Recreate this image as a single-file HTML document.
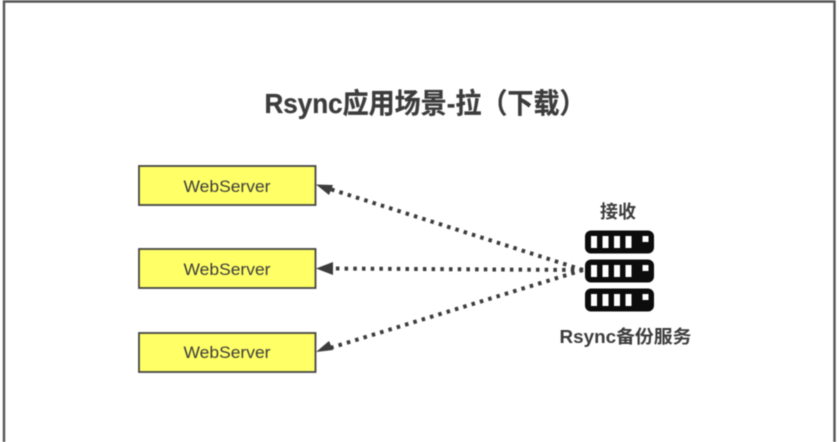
<!DOCTYPE html>
<html><head><meta charset="utf-8"><style>
html,body{margin:0;padding:0;background:#fff;width:839px;height:442px;overflow:hidden}
svg{display:block;filter:blur(.45px)}
text{font-family:"Liberation Sans","Noto Sans CJK SC",sans-serif;fill:#3c3c3c}
</style></head><body>
<svg width="839" height="442" viewBox="0 0 839 442" xmlns="http://www.w3.org/2000/svg">
<rect width="839" height="442" fill="#fff"/>
<path d="M4 442V1.500H834.500V442" fill="none" stroke="#555" stroke-width="2.400"/>
<text x="425" y="113" font-size="28" font-weight="700" text-anchor="middle" textLength="321" lengthAdjust="spacingAndGlyphs" stroke="#3c3c3c" stroke-width=".3">Rsync应用场景-拉（下载）</text>
<g fill="#ffff66" stroke="#444" stroke-width="1.800">
<rect x="139" y="166" width="176.500" height="39"/>
<rect x="139" y="249" width="176.500" height="39"/>
<rect x="139" y="333" width="176.500" height="39"/>
</g>
<g font-size="17" text-anchor="middle">
<text x="227" y="192" textLength="87" lengthAdjust="spacingAndGlyphs">WebServer</text>
<text x="227" y="275" textLength="87" lengthAdjust="spacingAndGlyphs">WebServer</text>
<text x="227" y="358" textLength="87" lengthAdjust="spacingAndGlyphs">WebServer</text>
</g>
<g stroke="#3c3c3c" stroke-width="4" stroke-dasharray="3.500 5.200" fill="none">
<path d="M583 270L330 189"/>
<path d="M583 270L332 268.500"/>
<path d="M583 270L330 348"/>
</g>
<g fill="#3c3c3c">
<path d="M316 184.500L333 185L329 195Z"/>
<path d="M316 268.500L333 262V275Z"/>
<path d="M316 352L329 341L333 350Z"/>
</g>
<text x="618" y="218" font-size="18" font-weight="700" text-anchor="middle">接收</text>
<g>
<rect x="585" y="230.500" width="69" height="23" rx="6" fill="#0c0c0c"/>
<g fill="#fff">
<rect x="591" y="236" width="6" height="12"/><rect x="602.500" y="236" width="6" height="12"/><rect x="614" y="236" width="6" height="12"/><rect x="625.500" y="236" width="6" height="12"/><rect x="642.500" y="236" width="6" height="6"/>
</g>
</g>
<g transform="translate(0,29)">
<rect x="585" y="230.500" width="69" height="23" rx="6" fill="#0c0c0c"/>
<g fill="#fff">
<rect x="591" y="236" width="6" height="12"/><rect x="602.500" y="236" width="6" height="12"/><rect x="614" y="236" width="6" height="12"/><rect x="625.500" y="236" width="6" height="12"/><rect x="642.500" y="236" width="6" height="6"/>
</g>
</g>
<g transform="translate(0,58)">
<rect x="585" y="230.500" width="69" height="23" rx="6" fill="#0c0c0c"/>
<g fill="#fff">
<rect x="591" y="236" width="6" height="12"/><rect x="602.500" y="236" width="6" height="12"/><rect x="614" y="236" width="6" height="12"/><rect x="625.500" y="236" width="6" height="12"/><rect x="642.500" y="236" width="6" height="6"/>
</g>
</g>
<text x="625.500" y="343" font-size="18" font-weight="700" text-anchor="middle" textLength="132" lengthAdjust="spacingAndGlyphs">Rsync备份服务</text>
</svg>
</body></html>
